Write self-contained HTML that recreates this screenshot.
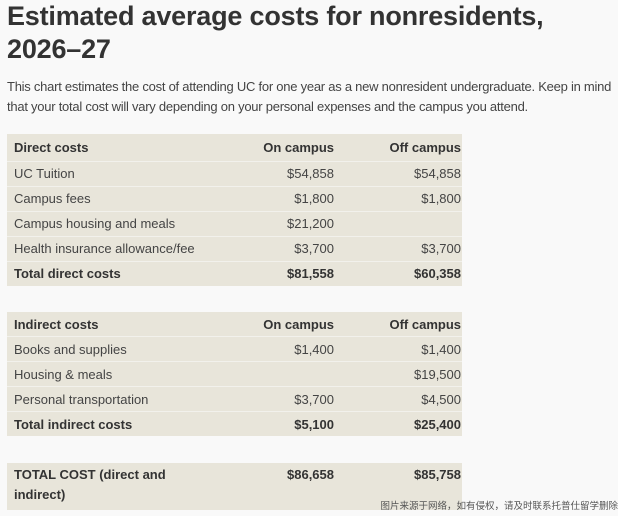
<!DOCTYPE html>
<html><head><meta charset="utf-8"><style>
body{margin:0;background:#f9f9f9;width:618px;height:516px;overflow:hidden;font-family:"Liberation Sans","Noto Sans CJK SC",sans-serif;color:#333;position:relative}
h1{position:absolute;left:7px;top:0;margin:0;font-size:27px;line-height:33px;font-weight:bold;color:#333;width:600px;letter-spacing:-0.2px}
p{position:absolute;left:7px;top:77px;margin:0;font-size:13px;line-height:20px;color:#444;width:611px;letter-spacing:-0.25px}
table{position:absolute;left:7px;width:455px;border-collapse:collapse;background:#e8e5da;font-size:13px}
td{height:24px;border-top:1px solid #f2f1ec;padding:0 7px;color:#444;vertical-align:middle}
tr:first-child td{border-top:none}
td.r{text-align:right;padding:0 1px 0 0}
.b td{font-weight:bold;color:#333}
.w{position:absolute;right:0;top:498px;font-size:9.5px;color:#555}
</style></head><body>
<h1>Estimated average costs for nonresidents, 2026–27</h1>
<p>This chart estimates the cost of attending UC for one year as a new nonresident undergraduate. Keep in mind that your total cost will vary depending on your personal expenses and the campus you attend.</p>
<table style="top:134px">
<colgroup><col style="width:232px"><col style="width:96px"><col style="width:127px"></colgroup>
<tr class="b" style="height:27px"><td>Direct costs</td><td class="r">On campus</td><td class="r">Off campus</td></tr>
<tr><td>UC Tuition</td><td class="r">$54,858</td><td class="r">$54,858</td></tr>
<tr><td>Campus fees</td><td class="r">$1,800</td><td class="r">$1,800</td></tr>
<tr><td>Campus housing and meals</td><td class="r">$21,200</td><td class="r"></td></tr>
<tr><td>Health insurance allowance/fee</td><td class="r">$3,700</td><td class="r">$3,700</td></tr>
<tr class="b"><td>Total direct costs</td><td class="r">$81,558</td><td class="r">$60,358</td></tr>
</table>
<table style="top:312px">
<colgroup><col style="width:232px"><col style="width:96px"><col style="width:127px"></colgroup>
<tr class="b"><td>Indirect costs</td><td class="r">On campus</td><td class="r">Off campus</td></tr>
<tr><td>Books and supplies</td><td class="r">$1,400</td><td class="r">$1,400</td></tr>
<tr><td>Housing &amp; meals</td><td class="r"></td><td class="r">$19,500</td></tr>
<tr><td>Personal transportation</td><td class="r">$3,700</td><td class="r">$4,500</td></tr>
<tr class="b"><td>Total indirect costs</td><td class="r">$5,100</td><td class="r">$25,400</td></tr>
</table>
<table style="top:463px">
<colgroup><col style="width:232px"><col style="width:96px"><col style="width:127px"></colgroup>
<tr class="b"><td style="height:45px;line-height:20px;vertical-align:top;padding-top:2px">TOTAL COST (direct and<br>indirect)</td><td class="r" style="vertical-align:top;padding-top:4px">$86,658</td><td class="r" style="vertical-align:top;padding-top:4px">$85,758</td></tr>
</table>
<div class="w">图片来源于网络，如有侵权，请及时联系托普仕留学删除</div>
</body></html>
